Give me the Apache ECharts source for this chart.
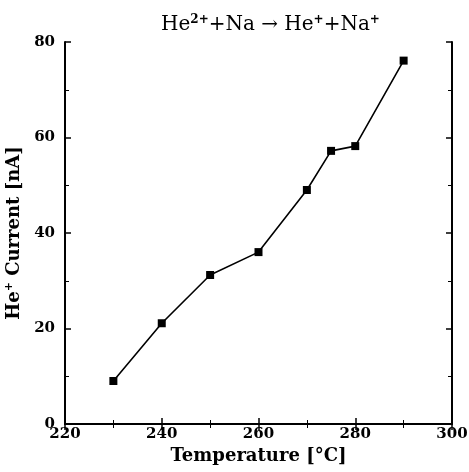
<!DOCTYPE html>
<html>
<head>
<meta charset="utf-8">
<script src="https://cdn.jsdelivr.net/npm/echarts@6/dist/echarts.min.js"></script>
<style>
html, body { margin: 0; padding: 0; background: #fff; }
#box { width: 469px; height: 472px; }
</style>
</head>
<body>
<div id="box"></div>
<script>
// 温度 (°C) 与 He+ 电流 (nA)
let temps = [230, 240, 250, 260, 270, 275, 280, 290];
let current = [9.0, 21.1, 31.2, 36.0, 49.0, 57.2, 58.2, 76.1];

let xTicks = [220, 240, 260, 280, 300];
let yTicks = [0, 20, 40, 60, 80];

let serif = '"DejaVu Serif", "Liberation Serif", serif';

let chart = echarts.init(document.getElementById('box'));

let points = temps.map(function (t, i) { return [t, current[i]]; });

// 四周都画刻度，所以上/右再放一根不带标签的轴
function frameAxis(pos, lo, hi, step) {
    return {
        type: 'value',
        position: pos,
        min: lo,
        max: hi,
        interval: step,
        axisLine: { show: true, lineStyle: { color: '#000', width: 2 } },
        axisTick: { show: true, inside: true, length: 6, lineStyle: { color: '#000', width: 1.5 } },
        minorTick: { show: true, splitNumber: 2, length: 4, lineStyle: { color: '#000', width: 1 } },
        axisLabel: { show: false },
        splitLine: { show: false }
    };
}

let xMain = frameAxis('bottom', xTicks[0], xTicks[xTicks.length - 1], 20);
xMain.axisLabel = {
    show: true, color: '#000', fontFamily: serif, fontWeight: 'bold', fontSize: 15, margin: 3
};
xMain.name = 'Temperature [°C]';
xMain.nameLocation = 'middle';
xMain.nameGap = 21;
xMain.nameTextStyle = { color: '#000', fontFamily: serif, fontWeight: 'bold', fontSize: 18 };

let yMain = frameAxis('left', yTicks[0], yTicks[yTicks.length - 1], 20);
yMain.axisLabel = {
    show: true, color: '#000', fontFamily: serif, fontWeight: 'bold', fontSize: 15, margin: 10
};
yMain.name = '{n|He}{s|+}{n| Current [nA]}';
yMain.nameLocation = 'middle';
yMain.nameGap = 35;
yMain.nameTextStyle = {
    color: '#000',
    rich: {
        n: { fontFamily: serif, fontWeight: 'bold', fontSize: 18, lineHeight: 22, verticalAlign: 'middle' },
        s: { fontFamily: serif, fontWeight: 'bold', fontSize: 11, lineHeight: 22, verticalAlign: 'top' }
    }
};

let option = {
    backgroundColor: '#fff',
    animation: false,
    title: {
        text: '{n|He}{s|2+}{n|+Na → He}{s|+}{n|+Na}{s|+}',
        left: 156,
        top: 7,
        textStyle: {
            color: '#000',
            fontWeight: 'normal',
            rich: {
                n: { fontFamily: serif, fontSize: 20, fontWeight: 'normal', lineHeight: 26, color: '#000', verticalAlign: 'middle' },
                s: { fontFamily: serif, fontSize: 12, fontWeight: 'bold', lineHeight: 26, color: '#000', verticalAlign: 'top', padding: [2, 0, 0, 0] }
            }
        }
    },
    grid: { left: 65, right: 17, top: 42, bottom: 48, outerBoundsMode: 'none' },
    xAxis: [xMain, frameAxis('top', xTicks[0], xTicks[xTicks.length - 1], 20)],
    yAxis: [yMain, frameAxis('right', yTicks[0], yTicks[yTicks.length - 1], 20)],
    series: [{
        type: 'line',
        data: points,
        symbol: 'rect',
        symbolSize: 8,
        lineStyle: { color: '#000', width: 1.6 },
        itemStyle: { color: '#000' }
    }]
};

chart.setOption(option);
</script>
</body>
</html>
